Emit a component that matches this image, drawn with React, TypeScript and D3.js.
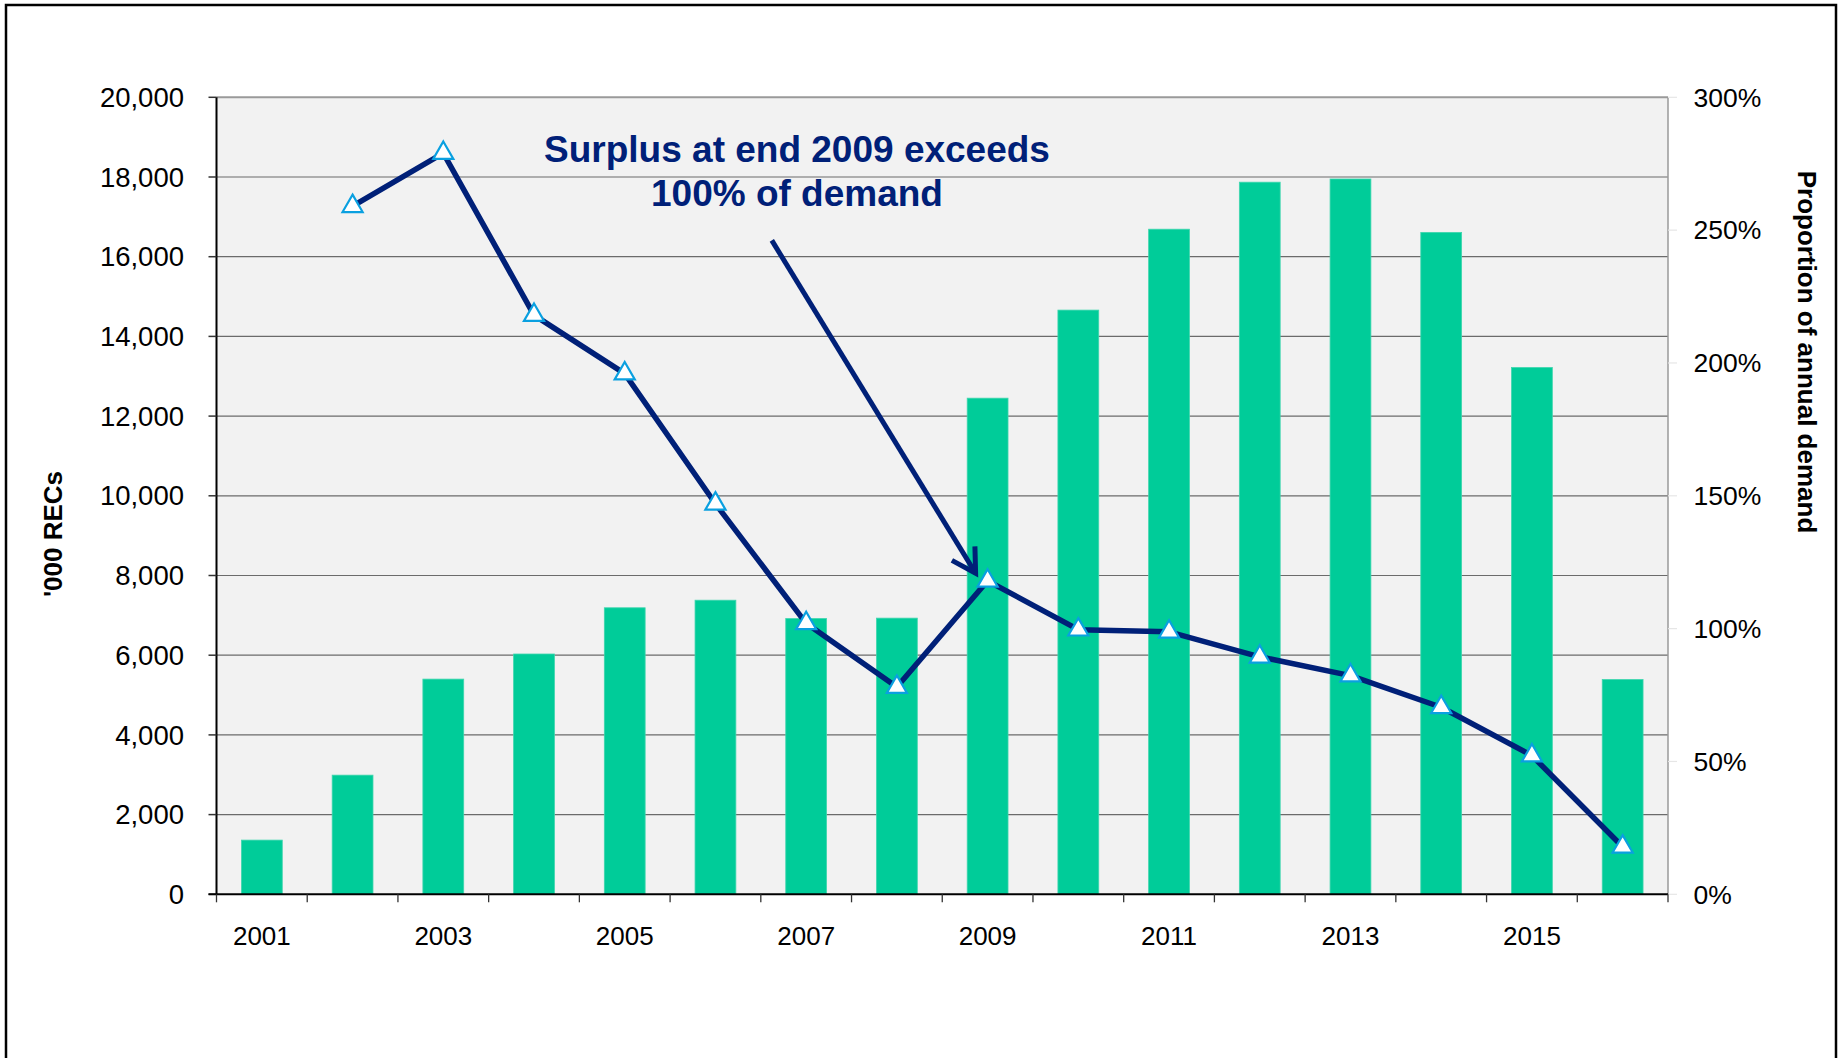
import React, { useEffect } from "react";
import * as d3 from "d3";

const years = ["2001","2002","2003","2004","2005","2006","2007","2008","2009","2010","2011","2012","2013","2014","2015","2016"];
const recs = [1360, 2990, 5400, 6030, 7190, 7380, 6920, 6930, 12450, 14660, 16690, 17870, 17950, 16610, 13220, 5390];
const proportion: (number | null)[] = [null, 259, 279, 218, 196, 147, 102, 78, 118, 99.6, 98.8, 89.4, 82.3, 70.4, 52.2, 17.9];
const leftTicks = [0, 2000, 4000, 6000, 8000, 10000, 12000, 14000, 16000, 18000, 20000];
const rightTicks = [0, 50, 100, 150, 200, 250, 300];
const xLabelYears = ["2001","2003","2005","2007","2009","2011","2013","2015"];
const annotationLines = ["Surplus at end 2009 exceeds", "100% of demand"];
const leftTitle = "'000 RECs";
const rightTitle = "Proportion of annual demand";

const W = 1839, H = 1058;
const PL = 216.5, PR = 1668, PT = 97.3, PB = 894.3;
const FONT = "'Liberation Sans', Arial, Helvetica, sans-serif";
const NAVY = "#002078";
const GREEN = "#00CC99";

export default function App() {
  useEffect(() => {
    document.body.style.margin = "0";
    document.body.style.overflow = "hidden";
  }, []);

  const x = d3.scaleBand<string>().domain(years).range([PL, PR]).padding(0);
  const step = x.step();
  const barW = step * 0.45;
  const cx = (yr: string) => (x(yr) as number) + step / 2;
  const yL = d3.scaleLinear().domain([0, 20000]).range([PB, PT]);
  const yR = d3.scaleLinear().domain([0, 300]).range([PB, PT]);

  const pts = years.map((yr, i) => ({ yr, v: proportion[i] })).filter(d => d.v !== null) as { yr: string; v: number }[];
  const lineGen = d3.line<{ yr: string; v: number }>().x(d => cx(d.yr)).y(d => yR(d.v));
  const tri = d3.symbol().type(d3.symbolTriangle).size(175)();

  // annotation arrow, anchored to the 2009 point
  const tipX = cx("2009") - 12;
  const tipY = yR(118) - 7.5;
  const startX = tipX - 203.8;
  const startY = tipY - 332.9;
  const ang = Math.atan2(startY - tipY, startX - tipX);
  const armLen = 27;
  const arm = (da: number) => [tipX + armLen * Math.cos(ang + da), tipY + armLen * Math.sin(ang + da)];
  const a1 = arm(Math.PI / 6);
  const a2 = arm(-Math.PI / 6);

  return (
    <svg width={W} height={H} style={{ display: "block", background: "#fff" }} fontFamily={FONT}>
      {/* outer frame */}
      <rect x={6} y={5} width={1830} height={1070} fill="none" stroke="#000" strokeWidth={2.5} />
      {/* plot background */}
      <rect x={PL} y={PT} width={PR - PL} height={PB - PT} fill="#f2f2f2" />
      {/* gridlines */}
      {leftTicks.filter(t => t > 0 && t < 20000).map(t => (
        <line key={"g" + t} x1={PL} x2={PR} y1={yL(t)} y2={yL(t)} stroke="#6b6b6b" strokeWidth={1.2} />
      ))}
      {/* top and right border */}
      <line x1={PL} x2={PR} y1={PT} y2={PT} stroke="#9a9a9a" strokeWidth={2} />
      <line x1={PR} x2={PR} y1={PT} y2={PB} stroke="#9a9a9a" strokeWidth={1.5} />
      {/* bars */}
      {years.map((yr, i) => (
        <rect key={"b" + yr} x={cx(yr) - barW / 2} y={yL(recs[i])} width={barW} height={PB - yL(recs[i])} fill={GREEN} stroke="#3fd6ae" strokeWidth={0.8} />
      ))}
      {/* left axis */}
      <line x1={PL} x2={PL} y1={PT} y2={PB} stroke="#000" strokeWidth={2} />
      {leftTicks.map(t => (
        <g key={"l" + t}>
          <line x1={PL - 8} x2={PL} y1={yL(t)} y2={yL(t)} stroke="#333" strokeWidth={1.5} />
          <text x={184} y={yL(t)} dy="0.35em" textAnchor="end" fontSize={27.5} fill="#000">{d3.format(",")(t)}</text>
        </g>
      ))}
      {/* right axis */}
      {rightTicks.map(t => (
        <g key={"r" + t}>
          <line x1={PR} x2={PR + 9} y1={yR(t)} y2={yR(t)} stroke="#e6e6e6" strokeWidth={1.2} />
          <text x={1693.5} y={yR(t)} dy="0.35em" textAnchor="start" fontSize={26.5} fill="#000">{t + "%"}</text>
        </g>
      ))}
      {/* x axis */}
      <line x1={PL - 8} x2={PR} y1={PB} y2={PB} stroke="#000" strokeWidth={2} />
      {years.concat(["end"]).map((yr, i) => {
        const xx = PL + i * step;
        return <line key={"t" + i} x1={xx} x2={xx} y1={PB} y2={PB + 8} stroke="#333" strokeWidth={1.3} />;
      })}
      {xLabelYears.map(yr => (
        <text key={"x" + yr} x={cx(yr)} y={945} textAnchor="middle" fontSize={26} fill="#000">{yr}</text>
      ))}
      {/* axis titles */}
      <text transform={`translate(62,534) rotate(-90)`} textAnchor="middle" fontSize={26} fontWeight="bold" fill="#000">{leftTitle}</text>
      <text transform={`translate(1798,352) rotate(90)`} textAnchor="middle" fontSize={26} fontWeight="bold" fill="#000">{rightTitle}</text>
      {/* line */}
      <path d={lineGen(pts) || ""} fill="none" stroke={NAVY} strokeWidth={5.5} strokeLinejoin="round" />
      {pts.map(d => (
        <path key={"m" + d.yr} d={tri || ""} transform={`translate(${cx(d.yr)},${yR(d.v)})`} fill="#fff" stroke="#0aa0e0" strokeWidth={2.2} />
      ))}
      {/* annotation */}
      <text x={797} y={161.7} textAnchor="middle" fontSize={37} fontWeight="bold" fill={NAVY}>{annotationLines[0]}</text>
      <text x={797} y={205.7} textAnchor="middle" fontSize={37} fontWeight="bold" fill={NAVY}>{annotationLines[1]}</text>
      <line x1={startX} y1={startY} x2={tipX} y2={tipY} stroke={NAVY} strokeWidth={5} />
      <polyline points={`${a1[0]},${a1[1]} ${tipX},${tipY} ${a2[0]},${a2[1]}`} fill="none" stroke={NAVY} strokeWidth={5} strokeLinejoin="miter" />
    </svg>
  );
}
